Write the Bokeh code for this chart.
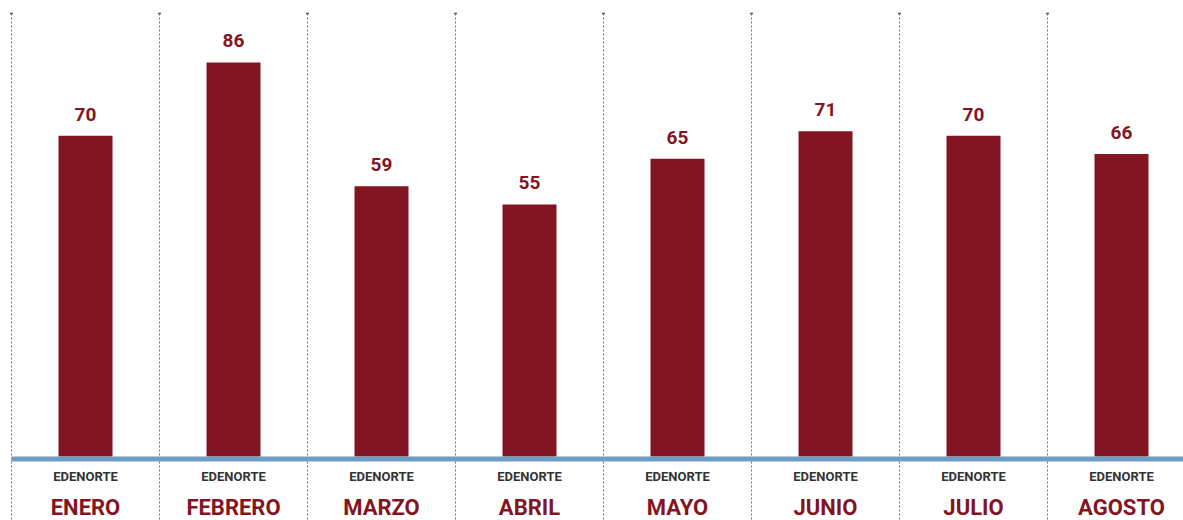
from bokeh.plotting import figure
from bokeh.models import Range1d, ColumnDataSource
from bokeh.core.properties import value
from bokeh.embed import file_html
from bokeh.resources import INLINE

months = ["ENERO", "FEBRERO", "MARZO", "ABRIL", "MAYO", "JUNIO", "JULIO", "AGOSTO"]
company = ["EDENORTE"] * 8
values = [70, 86, 59, 55, 65, 71, 70, 66]

BAR = "#831522"
BLUE = "#6f9cc2"
FONT = "Roboto"

W, H = 1183, 520
px_per_cat = 148.0
left_px = 11          # first separator, screen px
base_px = 456         # bar baseline, screen px
ppu = 4.582           # px per unit
y_hi = base_px / ppu
y_lo = -(H - base_px) / ppu

p = figure(width=W, height=H, output_backend="svg", toolbar_location=None,
           x_range=Range1d(-left_px / px_per_cat, (W - left_px) / px_per_cat),
           y_range=Range1d(y_lo, y_hi), min_border=0)
p.axis.visible = False
p.grid.visible = False
p.outline_line_color = None
p.background_fill_color = "white"
p.border_fill_color = "white"

n = len(months)
xc = [i + 0.5 for i in range(n)]
src = ColumnDataSource(dict(x=xc, v=values, lab=[str(v) for v in values],
                            m=months, c=company))

# dashed separators
sep_x = list(range(n + 1))
top_sep = (base_px - 13) / ppu
p.segment(x0=sep_x, x1=sep_x, y0=[top_sep] * len(sep_x), y1=[y_lo] * len(sep_x),
          line_color="#6f6f6f", line_width=1, line_dash="2 2")
p.segment(x0=[s - 1.5 / px_per_cat for s in sep_x], x1=[s + 1.5 / px_per_cat for s in sep_x],
          y0=[top_sep] * len(sep_x), y1=[top_sep] * len(sep_x),
          line_color="#555555", line_width=1.5)

# bars
p.vbar(x="x", top="v", bottom=0, width=54 / px_per_cat, source=src,
       fill_color=BAR, line_color=None)

# baseline
p.segment(x0=[0], x1=[n], y0=[-2.5 / ppu], y1=[-2.5 / ppu], line_color=BLUE, line_width=5)

# value labels
p.text(x="x", y="v", text="lab", source=src, text_align="center",
       text_baseline="bottom", y_offset=-15, text_color=BAR,
       text_font=value(FONT), text_font_style="bold", text_font_size="19px")

# company labels
p.text(x="x", y=-(476 - base_px) / ppu, text="c", source=src, text_align="center",
       text_baseline="middle", text_color="#333333",
       text_font=value(FONT), text_font_style="bold", text_font_size="13px")

# month labels
p.text(x="x", y=-(519 - base_px) / ppu, text="m", source=src, text_align="center",
       text_baseline="bottom", text_color=BAR,
       text_font=value(FONT), text_font_style="bold", text_font_size="22px")

open("out.html", "w").write(file_html(p, INLINE))
